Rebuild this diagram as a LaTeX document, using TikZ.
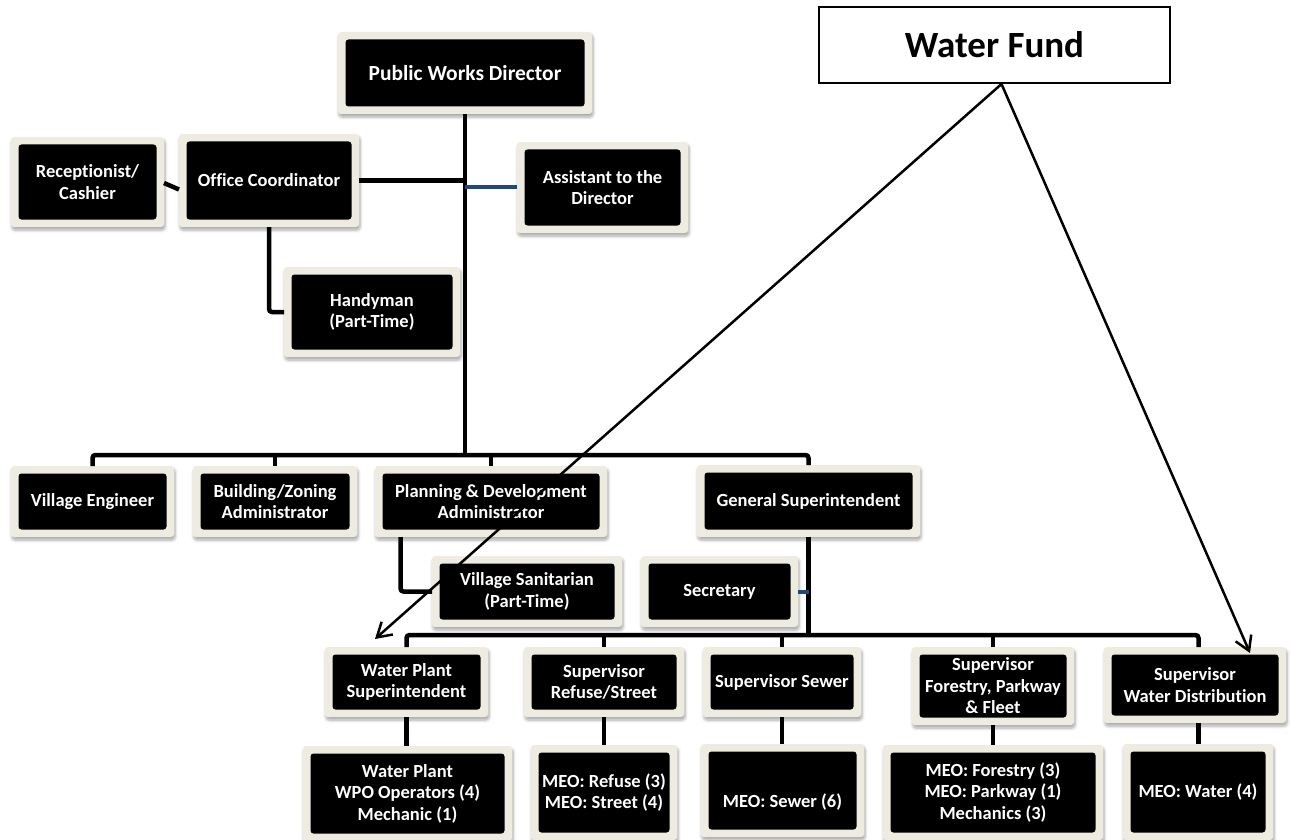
\documentclass[tikz,border=0pt]{standalone}
\usepackage{fontspec}
\setmainfont{Carlito}[Ligatures=NoCommon]
\usetikzlibrary{calc,arrows.meta,shadows.blur}

\definecolor{framecol}{HTML}{EEECE1}
\definecolor{navyline}{HTML}{1F497D}

\begin{document}
\begin{tikzpicture}[x=1pt,y=-1pt,
  orgbox/.style={fill=framecol, rounded corners=3pt, inner sep=0pt, outer sep=0pt,
    text=white, align=center, font=\bfseries\fontsize{18.5}{21.5}\selectfont,
    blur shadow={shadow xshift=1pt, shadow yshift=-3pt, shadow blur steps=6,
      shadow blur radius=3pt, shadow opacity=35},
    path picture={\fill[black]
      ([shift={(7.5pt,-7.5pt)}]path picture bounding box.north west) rectangle
      ([shift={(-7.5pt,7.5pt)}]path picture bounding box.south east);}},
  sz/.style 2 args={minimum width=#1, minimum height=#2},
  link/.style={line width=4.5pt, black},
  busline/.style={line width=4.5pt, black, rounded corners=3pt},
  navylink/.style={line width=4pt, navyline},
  fundbox/.style={draw=black, line width=2pt, fill=white, inner sep=0pt,
    font=\bfseries\fontsize{37}{40}\selectfont},
  fundarrow/.style={line width=2.5pt, black,
    -{Straight Barb[length=14pt,width=17pt,line width=2.5pt]}}
]
\useasboundingbox (0,0) rectangle (1291,840);

% top level
\node[orgbox, sz={254}{82}, font=\bfseries\fontsize{21.5}{24}\selectfont] (pwd) at (465,73) {Public Works Director};
\node[orgbox, sz={153}{90}] (rec) at (87.5,182) {Receptionist/\\Cashier};
\node[orgbox, sz={180}{93}] (oc) at (269,180.5) {Office Coordinator};
\node[orgbox, sz={171}{91}] (asst) at (602.5,187.5) {Assistant to the\\Director};
\node[orgbox, sz={176}{90}] (hm) at (372,312) {Handyman\\(Part-Time)};

% second level
\node[orgbox, sz={163}{71}] (ve) at (92.5,501.5) {Village Engineer};
\node[orgbox, sz={164}{71}] (bz) at (275,501.5) {Building/Zoning\\Administrator};
\node[orgbox, sz={232}{71}] (pd) at (491,501.5) {Planning \& Development\\Administrator};
\node[orgbox, sz={223}{72}] (gs) at (808.5,501) {General Superintendent};
\node[orgbox, sz={190}{71}] (vs) at (527,591.5) {Village Sanitarian\\(Part-Time)};
\node[orgbox, sz={157}{71}] (sec) at (719.5,591.5) {Secretary};

% supervisors
\node[orgbox, sz={163}{70}] (wps) at (406.5,682) {Water Plant\\Superintendent};
\node[orgbox, sz={160}{70}] (srs) at (604,682) {Supervisor\\Refuse/Street};
\node[orgbox, sz={158}{70}] (ss) at (782,682) {Supervisor Sewer};
\node[orgbox, sz={162}{78}] (sfp) at (993,686) {Supervisor\\Forestry, Parkway\\\& Fleet};
\node[orgbox, sz={182}{76}] (swd) at (1195,685) {Supervisor\\Water Distribution};

% crews
\node[orgbox, sz={209}{95}] (wpo) at (407.5,793.5) {Water Plant\\WPO Operators (4)\\Mechanic (1)};
\node[orgbox, sz={146}{95}] (mr) at (604,792.5) {MEO: Refuse (3)\\MEO: Street (4)};
\node[orgbox, sz={163}{93}, text height=33pt, text depth=0pt] (msw) at (782.5,790.5) {MEO: Sewer (6)};
\node[orgbox, sz={220}{95}] (mf) at (993,792.5) {MEO: Forestry (3)\\MEO: Parkway (1)\\Mechanics (3)};
\node[orgbox, sz={150}{96}] (mw) at (1198,792) {MEO: Water (4)};

% fund box
\node[fundbox, minimum width=351, minimum height=76] (wf) at (994.5,45) {Water Fund};

% reporting lines, top part
\coordinate (bus1) at (pwd.south |- 0,455);
\draw[link] (pwd.south) -- (bus1);
\draw[link] (oc.east) -- (oc.east -| pwd.south);
\draw[navylink] (asst.west) -- (asst.west -| pwd.south);
\draw[link] ([yshift=-1pt]rec.east) -- ([yshift=-9pt]oc.west);
\draw[busline] (oc.south) |- (hm.west);

% second level bus
\draw[busline] (ve.north) |- (bus1) -| (gs.north);
\draw[link] (bz.north) -- (bz.north |- bus1);
\draw[link] (pd.north) -- (pd.north |- bus1);
\draw[busline] ([xshift=25.5pt]pd.south west) |- (vs.west);

% supervisors bus
\coordinate (bus2) at (gs.south |- 0,635);
\coordinate (swdtop) at ([xshift=3.5pt]swd.north);
\draw[link] (gs.south) -- (bus2);
\draw[navylink] (sec.east) -- (sec.east -| gs.south);
\draw[busline] (wps.north) |- (bus2) -| (swdtop);
\draw[link] (srs.north) -- (srs.north |- bus2);
\draw[link] (ss.north) -- (ss.north |- bus2);
\draw[link] (sfp.north) -- (sfp.north |- bus2);

% supervisors to crews
\draw[link] (wps.south) -- (wps.south |- wpo.north);
\draw[link] (srs.south) -- (srs.south |- mr.north);
\draw[link] (ss.south) -- (ss.south |- msw.north);
\draw[link] (sfp.south) -- (sfp.south |- mf.north);
\draw[link] (swdtop |- swd.south) -- (swdtop |- mw.north);

% fund arrows
\coordinate (wfa) at ([xshift=7pt]wf.south);
\coordinate (tipL) at (375,639);
\coordinate (tipR) at (1250,653);
\draw[fundarrow] (wfa) -- (tipL);
\draw[fundarrow] (wfa) -- (tipR);
\end{tikzpicture}
\end{document}
